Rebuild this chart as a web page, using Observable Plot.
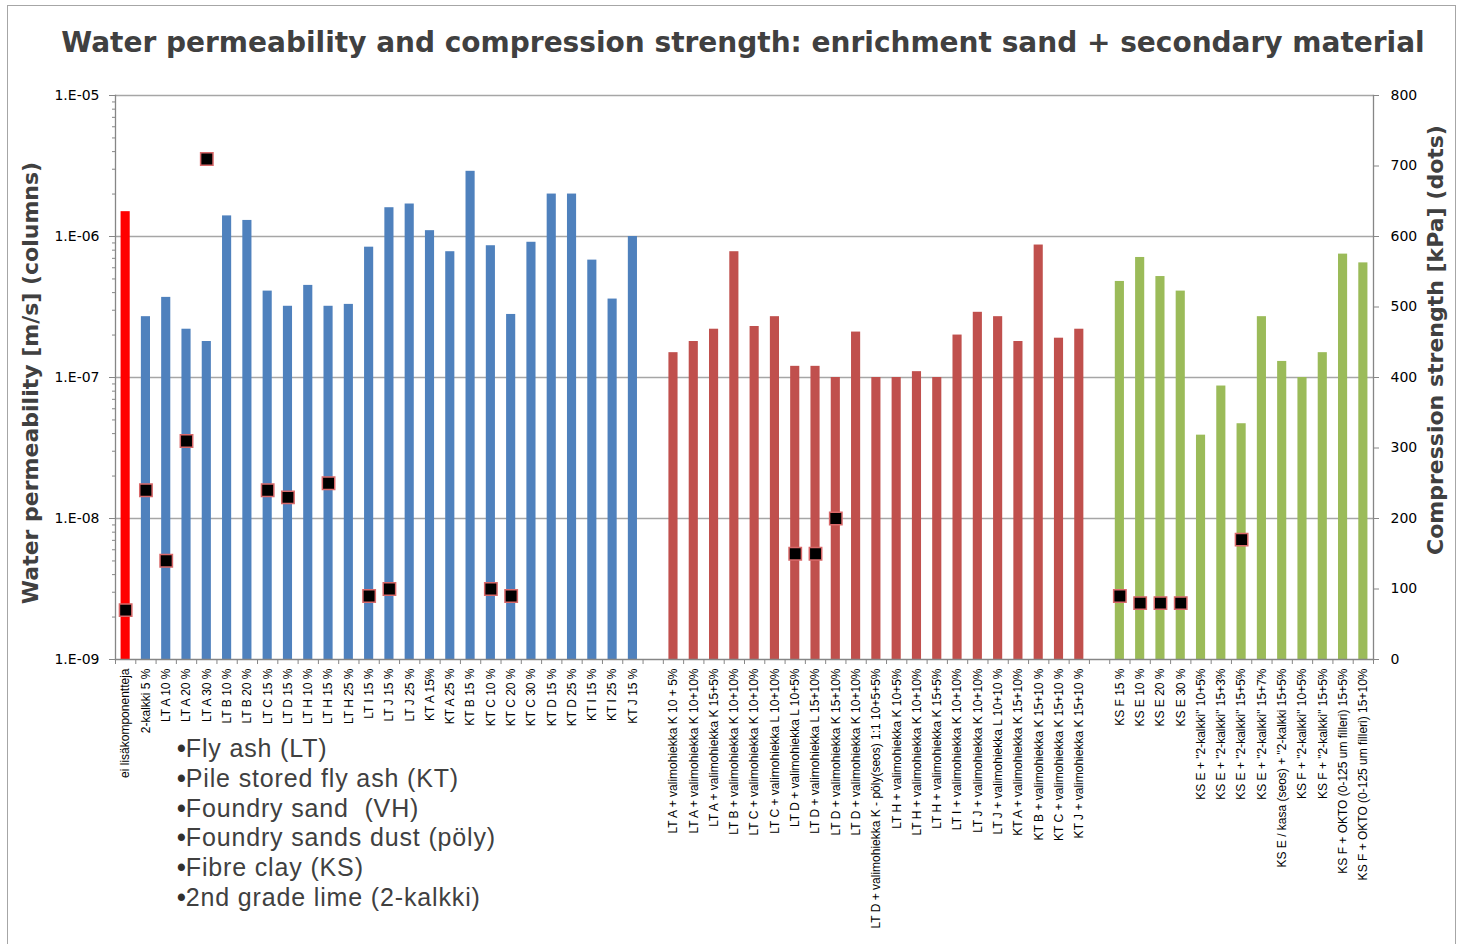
<!DOCTYPE html>
<html><head><meta charset="utf-8">
<script src="https://cdn.jsdelivr.net/npm/d3@7"></script>
<script src="https://cdn.jsdelivr.net/npm/@observablehq/plot@0.6"></script>
<style>
body{margin:0;background:#fff;}
#wrap{position:relative;width:1458px;height:944px;overflow:hidden;background:#fff;}
#frame{position:absolute;left:7px;top:5px;width:1449px;height:960px;border:1px solid #a6a6a6;box-sizing:border-box;}
#chart{position:absolute;left:0;top:0;}
#title{position:absolute;left:0;top:26px;width:1486px;text-align:center;font:bold 28px "DejaVu Sans";color:#404040;white-space:nowrap;}
.ytitle{position:absolute;width:600px;text-align:center;font:bold 22px "DejaVu Sans";color:#404040;white-space:nowrap;transform:translate(-50%,-50%) rotate(-90deg);}
#notes{position:absolute;left:177px;top:734px;font:25px "Liberation Sans";letter-spacing:0.85px;color:#404040;line-height:29.8px;}
#notes div{height:29.8px;white-space:nowrap;}
#notes .b{font-weight:bold;color:#303030;letter-spacing:0;}
</style></head>
<body>
<div id="wrap">
  <div id="frame"></div>
  <div id="chart"></div>
  <div id="title">Water permeability and compression strength: enrichment sand + secondary material</div>
  <div class="ytitle" style="left:30px;top:383px;">Water permeability [m/s] (columns)</div>
  <div class="ytitle" style="left:1435px;top:340px;">Compression strength [kPa] (dots)</div>
  <div id="notes"></div>
</div>
<script>
// ---- data ----
const labels = [
  "ei lisäkomponentteja","2-kalkki 5 %","LT A 10 %","LT A 20 %","LT A 30 %","LT B 10 %","LT B 20 %","LT C 15 %","LT D 15 %","LT H 10 %","LT H 15 %","LT H 25 %","LT I 15 %","LT J 15 %","LT J 25 %","KT A 15%","KT A 25 %","KT B 15 %","KT C 10 %","KT C 20 %","KT C 30 %","KT D 15 %","KT D 25 %","KT I 15 %","KT I 25 %","KT J 15 %",
  "",
  "LT A + valimohiekka K 10 + 5%","LT A + valimohiekka K 10+10%","LT A + valimohiekka K 15+5%","LT B + valimohiekka K 10+10%","LT C + valimohiekka K 10+10%","LT C + valimohiekka L 10+10%","LT D + valimohiekka L 10+5%","LT D + valimohiekka L 15+10%","LT D + valimohiekka K 15+10%","LT D + valimohiekka K 10+10%","LT D + valimohiekka K - pöly(seos) 1:1 10+5+5%","LT H + valimohiekka K 10+5%","LT H + valimohiekka K 10+10%","LT H + valimohiekka K 15+5%","LT I + valimohiekka K 10+10%","LT J + valimohiekka K 10+10%","LT J + valimohiekka L 10+10 %","KT A + valimohiekka K 15+10%","KT B + valimohiekka K 15+10 %","KT C + valimohiekka K 15+10 %","KT J + valimohiekka K 15+10 %",
  "",
  "KS F 15 %","KS E 10 %","KS E 20 %","KS E 30 %","KS E + \"2-kalkki\" 10+5%","KS E + \"2-kalkki\" 15+3%","KS E + \"2-kalkki\" 15+5%","KS E + \"2-kalkki\" 15+7%","KS E / kasa (seos) + \"2-kalkki 15+5%","KS F + \"2-kalkki\" 10+5%","KS F + \"2-kalkki\" 15+5%","KS F + OKTO (0-125 um filleri) 15+5%","KS F + OKTO (0-125 um filleri) 15+10%"
];
const groups = [
  "ref","LT/KT","LT/KT","LT/KT","LT/KT","LT/KT","LT/KT","LT/KT","LT/KT","LT/KT","LT/KT","LT/KT","LT/KT","LT/KT","LT/KT","LT/KT","LT/KT","LT/KT","LT/KT","LT/KT","LT/KT","LT/KT","LT/KT","LT/KT","LT/KT","LT/KT",
  "",
  "VH","VH","VH","VH","VH","VH","VH","VH","VH","VH","VH","VH","VH","VH","VH","VH","VH","VH","VH","VH","VH",
  "",
  "KS","KS","KS","KS","KS","KS","KS","KS","KS","KS","KS","KS","KS"
];
const permeability = [
  1.5e-6,2.7e-7,3.7e-7,2.2e-7,1.8e-7,1.4e-6,1.3e-6,4.1e-7,3.2e-7,4.5e-7,3.2e-7,3.3e-7,8.4e-7,1.6e-6,1.7e-6,1.1e-6,7.8e-7,2.9e-6,8.6e-7,2.8e-7,9.1e-7,2.0e-6,2.0e-6,6.8e-7,3.6e-7,1.0e-6,
  null,
  1.5e-7,1.8e-7,2.2e-7,7.8e-7,2.3e-7,2.7e-7,1.2e-7,1.2e-7,1.0e-7,2.1e-7,1.0e-7,1.0e-7,1.1e-7,1.0e-7,2.0e-7,2.9e-7,2.7e-7,1.8e-7,8.7e-7,1.9e-7,2.2e-7,
  null,
  4.8e-7,7.1e-7,5.2e-7,4.1e-7,3.9e-8,8.7e-8,4.7e-8,2.7e-7,1.3e-7,1.0e-7,1.5e-7,7.5e-7,6.5e-7
];
const strength = [
  70,240,140,310,710,null,null,240,230,null,250,null,90,100,null,null,null,null,100,90,null,null,null,null,null,null,
  null,
  null,null,null,null,null,null,150,150,200,null,null,null,null,null,null,null,null,null,null,null,null,
  null,
  90,80,80,80,null,null,170,null,null,null,null,null,null
];
const groupNames = ["ref","LT/KT","VH","KS"];
const groupColors = ["#FF0000","#4F81BD","#C0504D","#9BBB59"];
const leftTicks = [1e-9,1e-8,1e-7,1e-6,1e-5];
const rightTicks = [0,100,200,300,400,500,600,700,800];
const notes = ["Fly ash (LT)","Pile stored fly ash (KT)","Foundry sand  (VH)","Foundry sands dust (pöly)","Fibre clay (KS)","2nd grade lime (2-kalkki)"];

// ---- build ----
const rows = labels.map((label, i) => ({i, label, group: groups[i], perm: permeability[i], kpa: strength[i]}));
const n = labels.length;
const W = 1458, H = 944, mL = 115, mR = W - 1373, mT = 95, mB = H - 659;
const step = (W - mL - mR) / n;
const plotH = H - mT - mB;
const toLog = v => Math.pow(10, -9 + v / 200); // map 0..800 kPa onto the 4 decades
const fromLog = y => Math.round((Math.log10(y) + 9) * 200);
const minor = [];
for (let e = -9; e < -5; e++) for (let k = 2; k <= 9; k++) minor.push(k * Math.pow(10, e));
const axisGray = "#868686";

const chart = Plot.plot({
  width: W, height: H,
  marginLeft: mL, marginRight: mR, marginTop: mT, marginBottom: mB,
  style: {fontFamily: "DejaVu Sans", background: "transparent", overflow: "visible"},
  x: {type: "band", domain: d3.range(n), paddingInner: 0.55, paddingOuter: 0.275, round: false, axis: null},
  y: {type: "log", domain: [1e-9, 1e-5], axis: null},
  color: {domain: groupNames, range: groupColors},
  marks: [
    Plot.gridY(leftTicks.slice(1), {stroke: "#a6a6a6", strokeOpacity: 1, strokeWidth: 1.3}),
    Plot.barY(rows.filter(d => d.perm != null), {x: "i", y1: () => 1e-9, y2: "perm", fill: "group"}),
    Plot.frame({anchor: "left", stroke: axisGray, strokeWidth: 1.3}),
    Plot.frame({anchor: "right", stroke: axisGray, strokeWidth: 1.3}),
    Plot.frame({anchor: "bottom", stroke: axisGray, strokeWidth: 1.3}),
    Plot.axisY(leftTicks, {anchor: "left", tickSize: 6, tickPadding: 10, stroke: axisGray, fill: "#000", fontSize: 14,
      tickFormat: v => "1.E-" + String(Math.round(-Math.log10(v))).padStart(2, "0"), label: null}),
    Plot.axisY(minor, {anchor: "left", tickSize: 3, stroke: axisGray, tickFormat: () => "", label: null}),
    Plot.axisY(rightTicks.map(toLog), {anchor: "right", tickSize: 5, tickPadding: 12, stroke: axisGray, fill: "#000", fontSize: 14,
      tickFormat: fromLog, label: null}),
    Plot.ruleX(rows, {x: "i", dx: -step / 2, insetTop: plotH, insetBottom: -5, stroke: axisGray}),
    Plot.ruleX(rows.slice(-1), {x: "i", dx: step / 2, insetTop: plotH, insetBottom: -5, stroke: axisGray}),
    Plot.axisX({anchor: "bottom", tickSize: 0, tickPadding: 9, tickRotate: -90, fontSize: 12,
      fontFamily: "Liberation Sans", fill: "#000", tickFormat: i => labels[i], label: null}),
    Plot.dot(rows.filter(d => d.kpa != null), {x: "i", y: d => toLog(d.kpa), symbol: "square", r: 7,
      fill: "#000", stroke: "#D9696A", strokeWidth: 1.5})
  ]
});
document.getElementById("chart").appendChild(chart);
document.getElementById("notes").innerHTML = notes.map(t => "<div><span class='b'>\u2022</span>" + t.replace(/  /g, " &nbsp;") + "</div>").join("");
</script>
</body></html>
